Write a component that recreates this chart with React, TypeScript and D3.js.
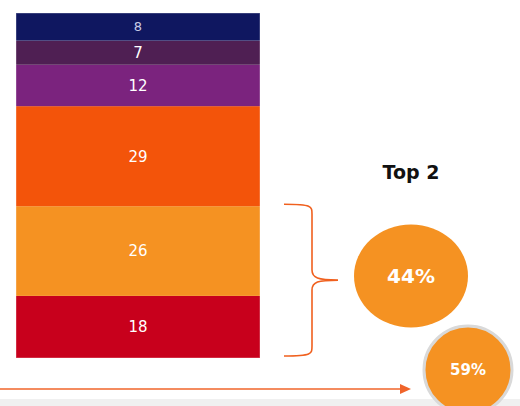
import React from 'react';
import * as d3 from 'd3';

// segments from bottom to top
const segments = ['s1', 's2', 's3', 's4', 's5', 's6'];
const values = [18, 26, 29, 12, 7, 8];
const colors = ['#c8001c', '#f59222', '#f3540a', '#7b237e', '#4f1f53', '#0f1760'];
const topLabel = 'Top 2';
const topShare = '44%';
const overallShare = '59%';

const W = 520;
const H = 406;

export default function App() {
  const total = d3.sum(values);
  const y = d3.scaleLinear().domain([0, total]).range([358, 13]);
  const x0 = 16;
  const x1 = 260;

  const starts = values.map((_, i) => d3.sum(values.slice(0, i)));
  const rows = segments.map((key, i) => ({
    key,
    value: values[i],
    color: colors[i],
    y0: y(starts[i]),
    y1: y(starts[i] + values[i]),
  }));

  // brace spans the bottom two segments
  const braceTop = y(starts[1] + values[1]) - 2;
  const braceBot = y(0) - 2;
  const mid = (braceTop + braceBot) / 2;
  const bx = 284;
  const bm = 312;
  const tip = 338;
  const brace = d3.path();
  brace.moveTo(bx, braceTop);
  brace.bezierCurveTo(bm, braceTop, bm, braceTop + 2, bm, braceTop + 10);
  brace.lineTo(bm, mid - 10);
  brace.bezierCurveTo(bm, mid - 2, bm + 6, mid, tip, mid);
  brace.bezierCurveTo(bm + 6, mid, bm, mid + 2, bm, mid + 10);
  brace.lineTo(bm, braceBot - 10);
  brace.bezierCurveTo(bm, braceBot - 2, bm, braceBot, bx, braceBot);

  const font = '"DejaVu Sans", Verdana, sans-serif';

  return (
    <svg width={W} height={H} style={{ position: 'absolute', left: 0, top: 0 }} fontFamily={font}>
      <rect x={0} y={0} width={W} height={H} fill="#ffffff" />
      <rect x={0} y={399} width={W} height={H - 399} fill="#f0f0f0" />
      {rows.map((r, i) => (
        <g key={r.key}>
          <rect x={x0} y={r.y1} width={x1 - x0} height={r.y0 - r.y1} fill={r.color} />
          <text
            x={(x0 + x1) / 2}
            y={(r.y0 + r.y1) / 2}
            dy="0.36em"
            textAnchor="middle"
            fill={i === rows.length - 1 ? '#c9cce6' : '#ffffff'}
            fontSize={i === rows.length - 1 ? 13 : 15}
          >
            {r.value}
          </text>
        </g>
      ))}
      <rect x={x0} y={13} width={x1 - x0} height={345} fill="none" stroke="#ffffff" strokeOpacity={0.35} strokeWidth={1} />

      <path d={brace.toString()} fill="none" stroke="#f0601e" strokeWidth={1.6} />

      <text x={411} y={172} dy="0.36em" textAnchor="middle" fontWeight="bold" fontSize={19} fill="#111111">
        {topLabel}
      </text>
      <ellipse cx={411} cy={276} rx={57} ry={51.5} fill="#f59222" />
      <text x={411} y={276} dy="0.36em" textAnchor="middle" fontWeight="bold" fontSize={20} fill="#ffffff">
        {topShare}
      </text>

      <line x1={0} y1={389} x2={402} y2={389} stroke="#f0642a" strokeWidth={1.6} />
      <path d="M400,384 L411,389 L400,394 Z" fill="#f0642a" />

      <circle cx={468} cy={370} r={44} fill="#f59222" stroke="#d9d9d9" strokeWidth={3} />
      <text x={468} y={370} dy="0.36em" textAnchor="middle" fontWeight="bold" fontSize={15} fill="#ffffff">
        {overallShare}
      </text>
    </svg>
  );
}
